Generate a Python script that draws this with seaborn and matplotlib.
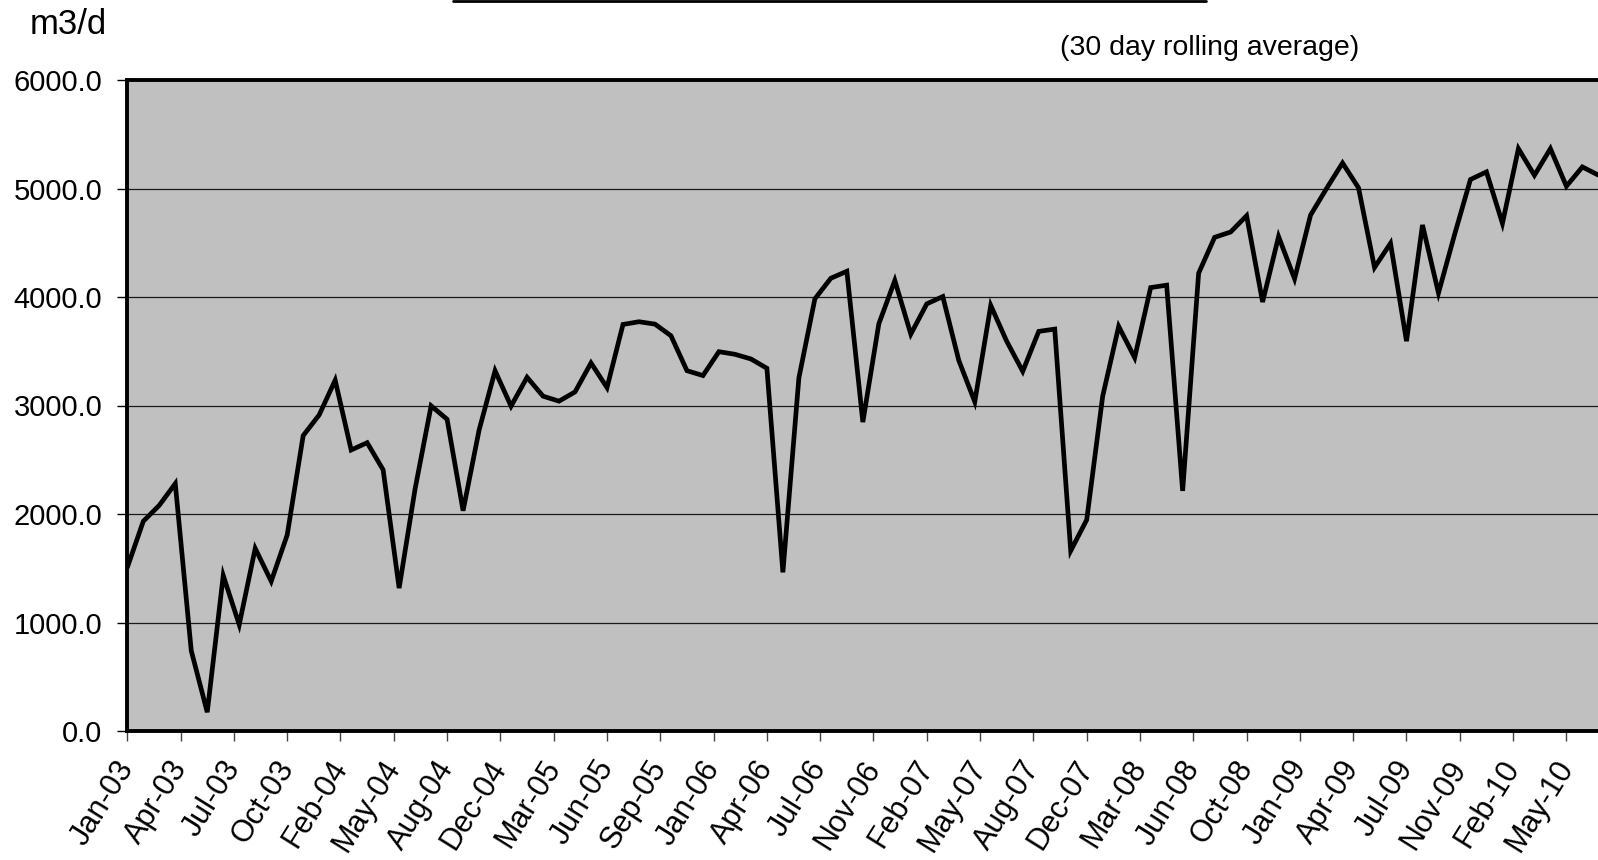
import matplotlib
matplotlib.use("Agg")
import matplotlib.pyplot as plt
from matplotlib.lines import Line2D
import pandas as pd
import seaborn as sns

# 30-day rolling average flow, one reading every 30 days from Jan 2003
start_date = "2003-01-01"
flow_m3d = [
    1507, 1933, 2080, 2280, 740, 173, 1433, 980, 1683, 1380,
    1807, 2723, 2913, 3233, 2590, 2657, 2407, 1317, 2233, 2997,
    2873, 2030, 2773, 3320, 2994, 3260, 3086, 3040, 3125, 3392,
    3165, 3747, 3772, 3750, 3643, 3321, 3276, 3496, 3472, 3429,
    3343, 1462, 3254, 3983, 4173, 4237, 2847, 3753, 4152, 3658,
    3937, 4004, 3416, 3034, 3922, 3591, 3315, 3683, 3704, 1661,
    1946, 3086, 3729, 3441, 4087, 4109, 2213, 4219, 4550, 4599,
    4749, 3954, 4557, 4168, 4755, 5000, 5235, 5006, 4272, 4495,
    3593, 4664, 4037, 4572, 5083, 5153, 4679, 5367, 5122, 5367,
    5021, 5199, 5123,
]
tick_labels = [
    "Jan-03", "Apr-03", "Jul-03", "Oct-03", "Feb-04", "May-04", "Aug-04",
    "Dec-04", "Mar-05", "Jun-05", "Sep-05", "Jan-06", "Apr-06", "Jul-06",
    "Nov-06", "Feb-07", "May-07", "Aug-07", "Dec-07", "Mar-08", "Jun-08",
    "Oct-08", "Jan-09", "Apr-09", "Jul-09", "Nov-09", "Feb-10", "May-10",
]
y_ticks = [0, 1000, 2000, 3000, 4000, 5000, 6000]

dates = pd.date_range(start_date, periods=len(flow_m3d), freq="30D")
tick_dates = pd.date_range(start_date, periods=len(tick_labels), freq="100D")
df = pd.DataFrame({"date": dates, "flow": flow_m3d})

sns.set_style("white", {"axes.facecolor": "#C0C0C0", "text.color": "black",
                        "xtick.color": "black", "ytick.color": "black"})
plt.rcParams["font.family"] = ["Liberation Sans", "DejaVu Sans"]

W, H = 1598, 860
fig = plt.figure(figsize=(W / 100, H / 100), dpi=100)
fig.patch.set_facecolor("white")

span_days = 2800
px_per_day = 53.3 / 100
left_px, top_px, bottom_px = 127.3, 80, 731
ax = fig.add_axes([left_px / W, (H - bottom_px) / H,
                   span_days * px_per_day / W, (bottom_px - top_px) / H])

sns.lineplot(data=df, x="date", y="flow", ax=ax, color="black",
             linewidth=3.4, solid_joinstyle="miter")

ax.set_xlim(pd.Timestamp(start_date), pd.Timestamp(start_date) + pd.Timedelta(days=span_days))
ax.set_ylim(0, 6000)

ax.set_yticks(y_ticks)
ax.set_yticklabels([f"{v:.1f}" for v in y_ticks], fontsize=21, color="black")
ax.set_xticks(tick_dates)
ax.set_xticklabels(tick_labels, fontsize=22, rotation=58, color="black",
                   ha="right", va="center", rotation_mode="anchor")

ax.grid(axis="y", color="#1a1a1a", linewidth=0.9)
ax.grid(axis="x", visible=False)
ax.set_axisbelow(True)

ax.tick_params(axis="y", direction="out", length=7, width=1, color="black",
               pad=11, left=True)
ax.tick_params(axis="x", direction="out", length=7, width=1, color="#444444",
               pad=16, bottom=True)

for side in ("left", "top", "bottom"):
    ax.spines[side].set_visible(True)
    ax.spines[side].set_color("black")
    ax.spines[side].set_linewidth(2.8)
ax.spines["right"].set_visible(False)

ax.set_xlabel("")
ax.set_ylabel("")

fig.text(30 / W, 1 - 24 / H, "m3/d", fontsize=25, color="black",
         ha="left", va="center")
fig.text(1060 / W, 1 - 48 / H, "(30 day rolling average)", fontsize=20.5,
         color="black", ha="left", va="center")
fig.add_artist(Line2D([453 / W, 1206 / W], [1 - 1.3 / H, 1 - 1.3 / H],
                      color="black", linewidth=2.0, transform=fig.transFigure))

fig.savefig("out.png", dpi=100, facecolor="white")
